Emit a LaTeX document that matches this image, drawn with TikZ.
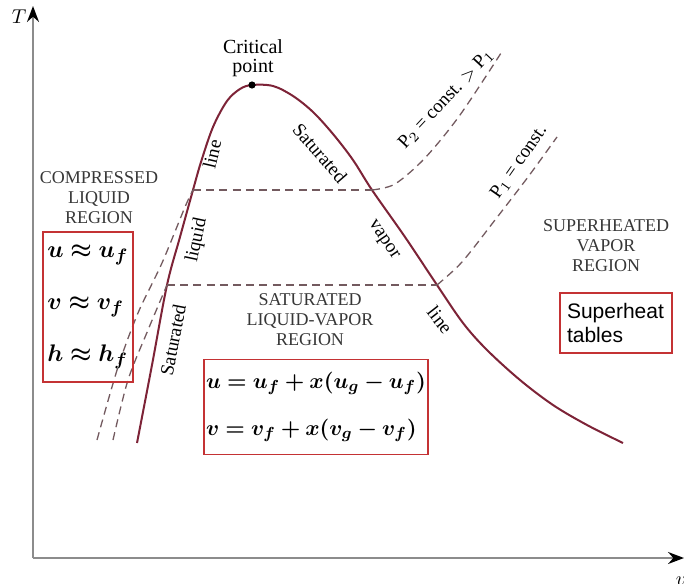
\documentclass[tikz,border=0pt]{standalone}
\usepackage{amsmath, amssymb}
\usepackage{bm}
\usepackage{fontspec}
\setmainfont{Liberation Serif}
\newfontfamily\tablefont{Liberation Sans}
\usetikzlibrary{arrows.meta}
\definecolor{domered}{RGB}{125,35,55}
\definecolor{boxred}{RGB}{196,50,52}
\definecolor{isobar}{RGB}{115,90,95}
\definecolor{axisgray}{RGB}{140,140,140}
\definecolor{regiontext}{RGB}{55,55,55}

\begin{document}
\begin{tikzpicture}[x=0.5pt, y=-0.5pt, >=Stealth,
    dome/.style={domered, line width=1pt},
    isoline/.style={isobar, line width=0.65pt, dash pattern=on 4pt off 2.6pt},
    curvelabel/.style={font=\fontsize{9.5}{10}\selectfont, inner sep=0pt},
    regionlabel/.style={align=center, text=regiontext, font=\fontsize{9}{10}\selectfont},
    eqbox/.style={draw=boxred, line width=0.9pt, align=left, inner sep=0pt}]
    \useasboundingbox (0,0) rectangle (684,583);

    % axes
    \coordinate (origin) at (33,558);
    \coordinate (Ttip) at (33,6);
    \coordinate (vtip) at (684,558);
    \draw[-{Stealth[black]}, axisgray, line width=1.1pt] (origin) -- (Ttip);
    \draw[-{Stealth[black]}, axisgray, line width=1.1pt] (origin) -- (vtip);
    \node (Tlabel) at (19,17) {$T$};
    \node (vlabel) at (681,581) {$v$};

    % saturation dome
    \coordinate (satA) at (167,285);
    \coordinate (satB) at (193,190);
    \coordinate (satC) at (372,190);
    \coordinate (satD) at (437,285);
    \coordinate (crit) at (252,85);
    \draw[dome] plot[smooth, tension=0.55] coordinates {(137,443) (152,365) (satA) (180,237) (satB) (201,162) (213,127) (227,101) (240,89) (crit) (273,86) (293,96) (313,112) (333,134) (353,160) (satC) (405,237) (satD) (463,323) (487,350) (520,380) (553,405) (587,425) (623,443)};
    \node[circle, fill=black, inner sep=0pt, minimum size=3.6pt] (critdot) at (crit) {};
    \node[align=center, font=\fontsize{10}{9.5}\selectfont] (critlabel) at (253,58) {Critical\\point};

    % isobars
    \draw[isoline] (satB) -- (satC);
    \draw[isoline] (satA) -- (satD);
    \draw[isoline] plot[smooth] coordinates {(97,440) (118,367) (138,313) (162,263) (185,207) (satB)};
    \draw[isoline] plot[smooth] coordinates {(113,440) (128,380) (148,330) (satA)};
    \draw[isoline] plot[smooth] coordinates {(satC) (395,184) (425,158) (460,115) (503,50)};
    \draw[isoline] plot[smooth] coordinates {(satD) (462,262) (495,220) (528,177) (557,137)};

    % labels along the lines
    \node[curvelabel, rotate=77] (liqline) at (212,154) {line};
    \node[curvelabel, rotate=78] (liqliquid) at (197,240) {liquid};
    \node[curvelabel, rotate=79] (liqsat) at (173,340) {Saturated};
    \node[curvelabel, rotate=-49] (vapsat) at (320,153) {Saturated};
    \node[curvelabel, rotate=-56] (vapvapor) at (383,240) {vapor};
    \node[curvelabel, rotate=-52] (vapline) at (440,320) {line};
    \node[curvelabel, rotate=47] (ptwo) at (446,99) {P$_2$ = const. $>$ P$_1$};
    \node[curvelabel, rotate=55] (pone) at (519,162) {P$_1$ = const.};

    % regions
    \node[regionlabel] (compressed) at (99,198) {COMPRESSED\\LIQUID\\REGION};
    \node[regionlabel] (twophase) at (310,320) {SATURATED\\LIQUID-VAPOR\\REGION};
    \node[regionlabel] (superheated) at (606,246) {SUPERHEATED\\VAPOR\\REGION};

    \node[eqbox, minimum width=45pt, minimum height=75pt, font=\fontsize{12.5}{26}\selectfont] (liqbox) at (88,307) {$\bm{u \approx u_f}$\\$\bm{v \approx v_f}$\\$\bm{h \approx h_f}$};
    \node[eqbox, minimum width=112pt, minimum height=47.5pt, font=\fontsize{11.3}{23.5}\selectfont] (mixbox) at (316,407) {$\bm{u = u_f + x(u_g - u_f)}$\\$\bm{v = v_f + x(v_g - v_f)}$};
    \node[eqbox, minimum width=56pt, minimum height=30pt, text width=49pt, font=\tablefont\fontsize{10.5}{12}\selectfont] (shbox) at (616,323) {Superheat\\tables};
\end{tikzpicture}
\end{document}
